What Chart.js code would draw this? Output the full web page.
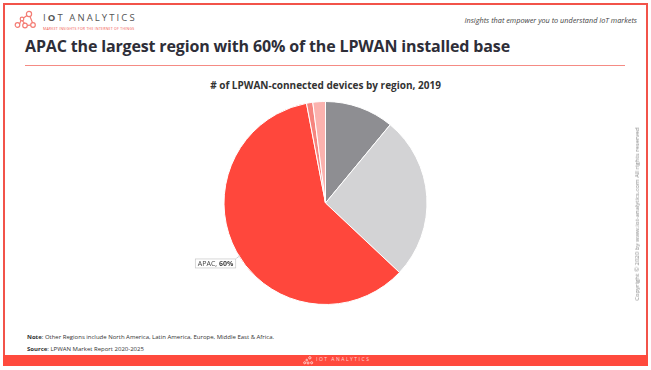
<!DOCTYPE html>
<html>
<head>
<meta charset="utf-8">
<script src="https://cdn.jsdelivr.net/npm/chart.js@4"></script>
<style>
  html, body { margin: 0; padding: 0; background: #fff; }
  body { width: 651px; height: 370px; position: relative; overflow: hidden; font-family: 'Open Sans', sans-serif; }
  .frame { position: absolute; left: 3px; top: 3px; width: 641px; height: 352px; border: 2px solid #f2534a; border-bottom: none; }
  .footer { position: absolute; left: 3px; top: 355px; width: 645px; height: 11px; background: #ff4a3d; }
  .footer .flogo { position: absolute; left: 313px; top: 1px; font-size: 5px; color: #fff; letter-spacing: 1.5px; opacity: 0.75; }
  .brand { position: absolute; left: 43px; top: 11px; font-size: 9.5px; color: #555; letter-spacing: 2.1px; }
  .brand b { font-weight: 700; }
  .tagline { position: absolute; left: 43px; top: 26px; font-size: 3.5px; color: #f2534a; letter-spacing: 0.25px; }
  .insights { position: absolute; right: 14px; top: 15px; font-size: 7.3px; font-style: italic; color: #444; }
  h1 { position: absolute; left: 25px; top: 35px; margin: 0; font-size: 16px; font-weight: 700; color: #2e2e38; letter-spacing: -0.15px; }
  .rule { position: absolute; left: 25px; top: 65px; width: 600px; height: 1px; background: #f58b84; }
  .ctitle { position: absolute; left: 0; width: 651px; top: 78px; text-align: center; font-size: 10px; font-weight: 700; color: #333; }
  .note { position: absolute; left: 27px; font-size: 6px; color: #333; }
  .copy { position: absolute; left: 637px; top: 214px; transform: translate(-50%, -50%) rotate(-90deg); white-space: nowrap; font-size: 6px; color: #888; }
  #wrap { position: absolute; left: 0; top: 99px; width: 651px; height: 208px; }
</style>
</head>
<body>
<div class="frame"></div>
<svg style="position:absolute;left:14px;top:10px" width="24" height="20" viewBox="0 0 24 20">
  <g fill="none" stroke="#f47c74" stroke-width="1.2">
    <circle cx="3.5" cy="15" r="2.3"/><circle cx="11" cy="15.5" r="2.3"/><circle cx="19" cy="15" r="2.3"/>
    <circle cx="8" cy="9" r="1.8"/><circle cx="15" cy="4" r="2.6"/>
    <path d="M5.5 14 L7 10.5 M9.5 8 L13 5.5 M8.5 10.8 L10.5 13.3 M13.2 15.3 L16.7 15.1 M16 6.5 L18.5 12.8"/>
  </g>
</svg>
<div class="brand">I<b>O</b>T&nbsp;ANALYTICS</div>
<div class="tagline">MARKET INSIGHTS FOR THE INTERNET OF THINGS</div>
<div class="insights">Insights that empower you to understand IoT markets</div>
<h1>APAC the largest region with 60% of the LPWAN installed base</h1>
<div class="rule"></div>
<div class="ctitle"># of LPWAN-connected devices by region, 2019</div>
<div id="wrap"><canvas id="pie"></canvas></div>
<div class="note" style="top:333px"><b>Note</b>: Other Regions include North America, Latin America, Europe, Middle East &amp; Africa.</div>
<div class="note" style="top:345px"><b>Source</b>: LPWAN Market Report 2020-2025</div>
<div class="copy">Copyright © 2020 by www.iot-analytics.com All rights reserved</div>
<div class="footer">
  <svg style="position:absolute;left:300px;top:1px" width="11" height="9" viewBox="0 0 24 20">
    <g fill="none" stroke="#ffffff" stroke-width="2" opacity="0.8">
      <circle cx="3.5" cy="15" r="2.3"/><circle cx="11" cy="15.5" r="2.3"/><circle cx="19" cy="15" r="2.3"/>
      <circle cx="8" cy="9" r="1.8"/><circle cx="15" cy="4" r="2.6"/>
    </g>
  </svg>
  <span class="flogo">IOT ANALYTICS</span>
</div>

<script>
// === Daten ===
const regions = ['North America', 'Europe', 'APAC', 'Latin America', 'Middle East & Africa'];
const shares = [11, 26, 60, 1, 2];
const sliceColors = ['#8e8e92', '#d3d3d5', '#ff473c', '#f6847e', '#fbb2ae'];
const labeledRegion = 'APAC';

// Label "APAC, 60%" mit Kasten neben dem Segment
const apacLabel = {
  id: 'apacLabel',
  afterDatasetsDraw(chart) {
    const ctx = chart.ctx;
    const idx = regions.indexOf(labeledRegion);
    const arc = chart.getDatasetMeta(0).data[idx];
    const mid = (arc.startAngle + arc.endAngle) / 2;
    const r = arc.outerRadius + 24;
    const cx = arc.x + Math.cos(mid) * r;
    const cy = arc.y + Math.sin(mid) * r;

    const t1 = labeledRegion + ', ';
    const t2 = shares[idx] + '%';
    ctx.save();
    ctx.font = "7px 'Open Sans'";
    const w1 = ctx.measureText(t1).width;
    ctx.font = "bold 7px 'Open Sans'";
    const w2 = ctx.measureText(t2).width;
    const w = w1 + w2 + 6, h = 10;
    const x0 = cx - w / 2, y0 = cy - h / 2;

    // Fuehrungslinie
    ctx.strokeStyle = '#bbbbbb';
    ctx.lineWidth = 0.7;
    ctx.beginPath();
    ctx.moveTo(x0 + w, y0);
    ctx.lineTo(x0 + w + 4, y0 - 3);
    ctx.stroke();

    ctx.fillStyle = '#fff';
    ctx.fillRect(x0, y0, w, h);
    ctx.strokeStyle = '#c8c8c8';
    ctx.strokeRect(x0 + 0.5, y0 + 0.5, w - 1, h - 1);

    ctx.fillStyle = '#444';
    ctx.textBaseline = 'middle';
    ctx.font = "7px 'Open Sans'";
    ctx.fillText(t1, x0 + 3, cy + 0.5);
    ctx.font = "bold 7px 'Open Sans'";
    ctx.fillText(t2, x0 + 3 + w1, cy + 0.5);
    ctx.restore();
  }
};

new Chart(document.getElementById('pie'), {
  type: 'pie',
  data: {
    labels: regions,
    datasets: [{
      data: shares,
      backgroundColor: sliceColors,
      borderColor: '#ffffff',
      borderWidth: 1
    }]
  },
  options: {
    responsive: true,
    maintainAspectRatio: false,
    animation: false,
    layout: { padding: 2 },
    plugins: {
      legend: { display: false },
      tooltip: { enabled: false }
    }
  },
  plugins: [apacLabel]
});
</script>
</body>
</html>
